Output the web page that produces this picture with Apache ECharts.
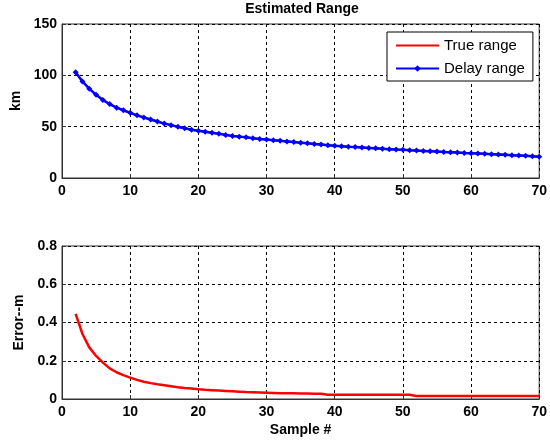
<!DOCTYPE html>
<html>
<head>
<meta charset="utf-8">
<script src="https://cdn.jsdelivr.net/npm/echarts@6/dist/echarts.min.js"></script>
<style>
  html, body { margin: 0; padding: 0; background: #fff; }
  #chart { width: 550px; height: 447px; }
</style>
</head>
<body>
<div id="chart"></div>
<script>
// Sample indices 2..70
const samples = [2,3,4,5,6,7,8,9,10,11,12,13,14,15,16,17,18,19,20,21,22,23,24,25,26,27,28,29,30,31,32,33,34,35,36,37,38,39,40,41,42,43,44,45,46,47,48,49,50,51,52,53,54,55,56,57,58,59,60,61,62,63,64,65,66,67,68,69,70];

// Range estimated from signal delay (km)
const delayRange = [103,94,87,81,76,72,68.5,66,63.5,61,59,57,55,53,51.5,50,48.5,47,46,45,44,43,42,41,40.3,39.6,38.8,38.1,37.5,36.8,36.2,35.6,35,34.4,33.8,33.2,32.6,32,31.4,31,30.5,30.1,29.7,29.3,28.9,28.5,28.1,27.7,27.4,27,26.7,26.4,26.1,25.8,25.4,25.1,24.8,24.4,24.1,23.8,23.5,23.2,22.9,22.6,22.2,21.9,21.6,21.2,20.8];

// Reference range (km), lies under the delay estimate
const trueRange = [103,94,87,81,76,72,68.5,66,63.5,61,59,57,55,53,51.5,50,48.5,47,46,45,44,43,42,41,40.3,39.6,38.8,38.1,37.5,36.8,36.2,35.6,35,34.4,33.8,33.2,32.6,32,31.4,31,30.5,30.1,29.7,29.3,28.9,28.5,28.1,27.7,27.4,27,26.7,26.4,26.1,25.8,25.4,25.1,24.8,24.4,24.1,23.8,23.5,23.2,22.9,22.6,22.2,21.9,21.6,21.2,20.8];

// Range error (m)
const rangeError = [0.445,0.34,0.27,0.225,0.19,0.16,0.14,0.125,0.112,0.1,0.09,0.083,0.077,0.072,0.067,0.062,0.058,0.055,0.051,0.048,0.046,0.044,0.042,0.04,0.038,0.036,0.035,0.034,0.033,0.032,0.03,0.03,0.03,0.029,0.029,0.028,0.028,0.022,0.022,0.022,0.022,0.022,0.022,0.022,0.022,0.022,0.022,0.022,0.022,0.022,0.016,0.016,0.016,0.016,0.016,0.016,0.016,0.016,0.016,0.016,0.016,0.016,0.016,0.016,0.016,0.016,0.016,0.016,0.016];

const xTicks = { min: 0, max: 70, interval: 10 };
const kmTicks = { min: 0, max: 150, interval: 50 };
const errTicks = { min: 0, max: 0.8, interval: 0.2 };

const FONT = 'Liberation Sans, Arial, sans-serif';
const labelStyle = { color: '#000', fontFamily: FONT, fontWeight: 'bold', fontSize: 14 };
const gridLine = { show: true, lineStyle: { color: '#000', type: [3, 3], width: 1 } };
const axisLine = { show: true, onZero: false, lineStyle: { color: '#333', width: 1 } };
const tick = { show: true, inside: true, length: 4, lineStyle: { color: '#333' } };

function xAxisDef(gridIndex, name) {
  return {
    type: 'value', gridIndex, ...xTicks,
    name: name, nameLocation: 'middle', nameGap: 24,
    nameTextStyle: labelStyle,
    axisLine, axisTick: tick, splitLine: gridLine,
    axisLabel: { ...labelStyle, margin: 6 }
  };
}
function yAxisDef(gridIndex, ticks, name, gap) {
  return {
    type: 'value', gridIndex, ...ticks,
    name: name, nameLocation: 'middle', nameGap: gap,
    nameTextStyle: labelStyle,
    axisLine, axisTick: tick, splitLine: gridLine,
    axisLabel: { ...labelStyle, margin: 5 }
  };
}

const pair = (ys) => samples.map((x, i) => [x, ys[i]]);

const chart = echarts.init(document.getElementById('chart'), null, { renderer: 'canvas' });
chart.setOption({
  animation: false,
  backgroundColor: '#fff',
  title: {
    text: 'Estimated Range', left: 302, top: 2, padding: 0, textAlign: 'center',
    textStyle: { ...labelStyle, fontSize: 14 }
  },
  legend: {
    orient: 'vertical', left: 387, top: 32,
    backgroundColor: '#fff', borderColor: '#000', borderWidth: 1, borderRadius: 0,
    padding: [6, 8, 5, 8], itemGap: 8, itemWidth: 43, itemHeight: 8,
    textStyle: { color: '#000', fontFamily: FONT, fontSize: 15 },
    data: [
      { name: 'True range', icon: 'inherit' },
      { name: 'Delay range', icon: 'inherit' }
    ]
  },
  grid: [
    { left: 62, right: 7, top: 24, height: 154, show: true, borderColor: '#333', borderWidth: 1, backgroundColor: '#fff' },
    { left: 62, right: 7, top: 246, height: 153, show: true, borderColor: '#333', borderWidth: 1, backgroundColor: '#fff' }
  ],
  xAxis: [xAxisDef(0, ''), xAxisDef(1, 'Sample #')],
  yAxis: [yAxisDef(0, kmTicks, 'km', 38), yAxisDef(1, errTicks, 'Error--m', 35)],
  series: [
    {
      // plain line, no markers: symbol kept only for the legend and made transparent
      name: 'True range', type: 'line', xAxisIndex: 0, yAxisIndex: 0,
      data: pair(trueRange), symbol: 'circle', showSymbol: false, z: 2,
      lineStyle: { color: '#ff0000', width: 2 }, itemStyle: { color: 'rgba(255,0,0,0)' }
    },
    {
      name: 'Delay range', type: 'line', xAxisIndex: 0, yAxisIndex: 0,
      data: pair(delayRange), symbol: 'diamond', symbolSize: 6, showSymbol: true, z: 3,
      lineStyle: { color: '#0000ff', width: 2.5 }, itemStyle: { color: '#0000ff' }
    },
    {
      name: 'Error', type: 'line', xAxisIndex: 1, yAxisIndex: 1,
      data: pair(rangeError), symbol: 'none',
      lineStyle: { color: '#ff0000', width: 2.5 }, itemStyle: { color: '#ff0000' }
    }
  ]
});
</script>
</body>
</html>
